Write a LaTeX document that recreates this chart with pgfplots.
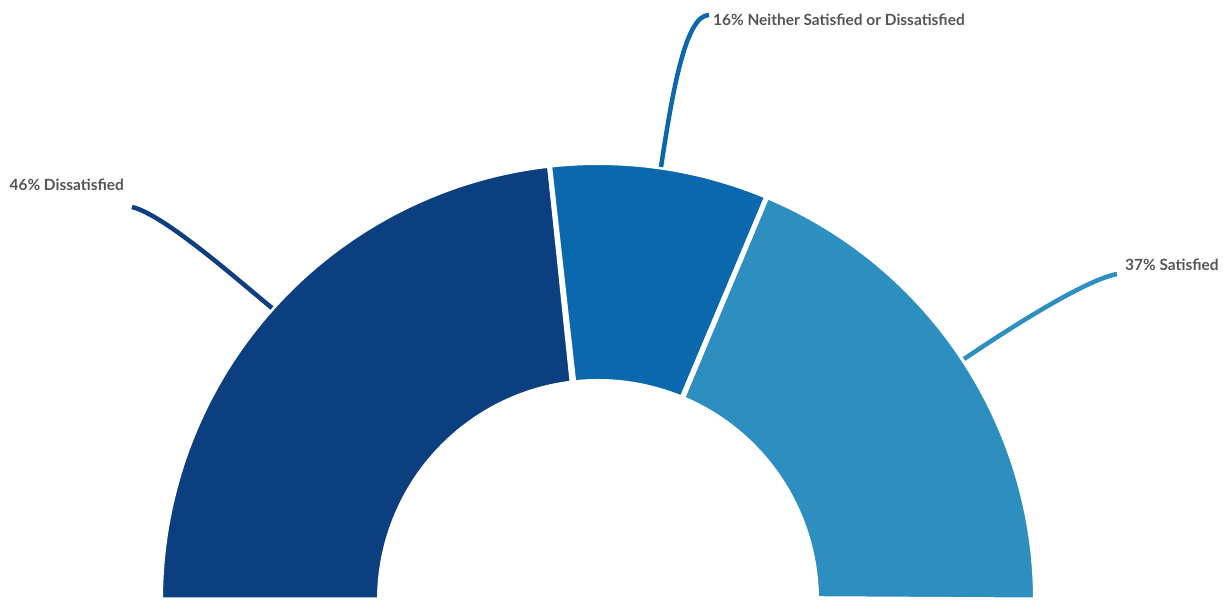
\documentclass[border=0pt]{standalone}
\usepackage{pgfplots}
\usepackage{pgfplotstable}
\pgfplotsset{compat=1.18}
\usepackage{fontspec}
\setmainfont{Lato}
\definecolor{cA}{HTML}{0B3F80}
\definecolor{cB}{HTML}{0A69AC}
\definecolor{cC}{HTML}{2D8EC0}
\definecolor{txt}{HTML}{555555}
\pgfplotstableread{
label value
Dissatisfied 46
Neither 16
Satisfied 37
}\shares
\begin{document}
\begin{tikzpicture}
\pgfplotstablegetelem{0}{value}\of\shares \edef\vA{\pgfplotsretval}
\pgfplotstablegetelem{1}{value}\of\shares \edef\vB{\pgfplotsretval}
\pgfplotstablegetelem{2}{value}\of\shares \edef\vC{\pgfplotsretval}
\pgfmathsetmacro\tot{\vA+\vB+\vC}
\pgfmathsetmacro\aA{180}
\pgfmathsetmacro\aB{180-180*\vA/\tot}
\pgfmathsetmacro\aC{\aB-180*\vB/\tot}
\pgfmathsetmacro\aD{\aC-180*\vC/\tot}
\def\Ro{437.5}\def\Ri{218.5}
\begin{axis}[hide axis, scale only axis, width=1223bp, height=600bp,
  xmin=0, xmax=1223, ymin=0, ymax=600,
  domain=0:2, samples=401]
% wedges
\addplot[fill=cA, draw=white, line width=5bp, variable=\t]
 ({598+((\t<=1)*\Ro+(\t>1)*\Ri)*cos((\t<=1)*(\aA+(\aB-\aA)*\t)+(\t>1)*(\aB-(\aB-\aA)*(\t-1)))},
  {((\t<=1)*\Ro+(\t>1)*\Ri)*sin((\t<=1)*(\aA+(\aB-\aA)*\t)+(\t>1)*(\aB-(\aB-\aA)*(\t-1)))}) -- cycle;
\addplot[fill=cB, draw=white, line width=5bp, variable=\t]
 ({598+((\t<=1)*\Ro+(\t>1)*\Ri)*cos((\t<=1)*(\aB+(\aC-\aB)*\t)+(\t>1)*(\aC-(\aC-\aB)*(\t-1)))},
  {((\t<=1)*\Ro+(\t>1)*\Ri)*sin((\t<=1)*(\aB+(\aC-\aB)*\t)+(\t>1)*(\aC-(\aC-\aB)*(\t-1)))}) -- cycle;
\addplot[fill=cC, draw=white, line width=5bp, variable=\t]
 ({598+((\t<=1)*\Ro+(\t>1)*\Ri)*cos((\t<=1)*(\aC+(\aD-\aC)*\t)+(\t>1)*(\aD-(\aD-\aC)*(\t-1)))},
  {((\t<=1)*\Ro+(\t>1)*\Ri)*sin((\t<=1)*(\aC+(\aD-\aC)*\t)+(\t>1)*(\aD-(\aD-\aC)*(\t-1)))}) -- cycle;
% leader lines
\draw[cA, line width=4.5bp] (axis cs:272,292) .. controls (axis cs:240,318) and (axis cs:165,385) .. (axis cs:132,393);
\draw[cB, line width=4.5bp] (axis cs:661,433) .. controls (axis cs:672,505) and (axis cs:685,585) .. (axis cs:709,585);
\draw[cC, line width=4.5bp] (axis cs:964,241) .. controls (axis cs:1010,272) and (axis cs:1085,320) .. (axis cs:1117,326);
% labels
\node[anchor=base east, inner sep=0pt, text=txt, font=\bfseries\fontsize{15.5}{17}\selectfont] at (axis cs:124,409.5) {46\% Dissatisfied};
\node[anchor=base west, inner sep=0pt, text=txt, font=\bfseries\fontsize{15.5}{17}\selectfont] at (axis cs:713,574) {16\% Neither Satisfied or Dissatisfied};
\node[anchor=base west, inner sep=0pt, text=txt, font=\bfseries\fontsize{15.5}{17}\selectfont] at (axis cs:1125,329.3) {37\% Satisfied};
\end{axis}
\pgfresetboundingbox
\path[use as bounding box] (current axis.south west) rectangle (current axis.north east);
\end{tikzpicture}
\end{document}
